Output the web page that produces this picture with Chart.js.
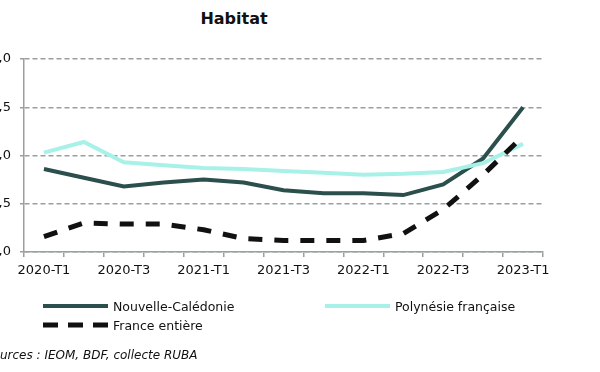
<!DOCTYPE html>
<html>
<head>
<meta charset="utf-8">
<script src="https://cdn.jsdelivr.net/npm/chart.js@4/dist/chart.umd.min.js"></script>
<style>
  body { margin: 0; width: 600px; height: 372px; overflow: hidden; background: #fff; position: relative; font-family: "DejaVu Sans", sans-serif; }
  #title { position: absolute; top: 9px; left: 0; width: 468px; text-align: center; font-weight: bold; font-size: 16px; color: #111; }
  #wrap { position: absolute; left: -12px; top: 0; width: 600px; height: 290px; }
  #legend { position: absolute; left: 0; top: 0; width: 600px; height: 372px; pointer-events: none; }
  .item { position: absolute; display: flex; align-items: center; font-size: 12.5px; color: #111; white-space: nowrap; }
  .item svg { margin-right: 5px; }
  #sources { position: absolute; left: -15px; top: 348px; font-size: 12px; font-style: italic; color: #111; white-space: nowrap; }
</style>
</head>
<body>
<div id="title">Habitat</div>
<div id="wrap"><canvas id="graph"></canvas></div>
<div id="legend"></div>
<div id="sources">Sources : IEOM, BDF, collecte RUBA</div>
<script>
// trimestres
const quarters = ['2020-T1','2020-T2','2020-T3','2020-T4','2021-T1','2021-T2','2021-T3','2021-T4',
  '2022-T1','2022-T2','2022-T3','2022-T4','2023-T1'];
// taux moyens (%)
const nouvelleCaledonie = [1.86, 1.77, 1.68, 1.72, 1.75, 1.72, 1.64, 1.61, 1.61, 1.59, 1.70, 1.97, 2.50];
const polynesie = [2.03, 2.14, 1.93, 1.90, 1.87, 1.86, 1.84, 1.82, 1.80, 1.81, 1.83, 1.92, 2.12];
const franceEntiere = [1.16, 1.30, 1.29, 1.29, 1.23, 1.14, 1.12, 1.12, 1.12, 1.19, 1.44, 1.80, 2.20];
const yTicks = [1.0, 1.5, 2.0, 2.5, 3.0];

const gridGrey = '#9a9f9f';

const ctx = document.getElementById('graph').getContext('2d');
const chart = new Chart(ctx, {
  type: 'line',
  data: {
    labels: quarters,
    datasets: [{
      label: 'Nouvelle-Calédonie',
      data: nouvelleCaledonie,
      borderColor: '#2b4f4c',
      borderWidth: 4,
      pointRadius: 0,
      tension: 0,
      order: 3
    }, {
      label: 'Polynésie française',
      data: polynesie,
      borderColor: '#a8f1e9',
      borderWidth: 4,
      pointRadius: 0,
      tension: 0,
      order: 2
    }, {
      label: 'France entière',
      data: franceEntiere,
      borderColor: '#111111',
      borderWidth: 5,
      borderDash: [14, 12],
      pointRadius: 0,
      tension: 0,
      order: 1
    }]
  },
  options: {
    responsive: true,
    maintainAspectRatio: false,
    animation: false,
    layout: { padding: { left: 0, right: 45, top: 59, bottom: 8 } },
    plugins: { legend: { display: false }, title: { display: false }, tooltip: { enabled: false } },
    scales: {
      x: {
        offset: true,
        grid: { offset: true, drawOnChartArea: false, color: gridGrey, lineWidth: 1.5, tickLength: 5 },
        border: { color: gridGrey, width: 1.5 },
        ticks: {
          autoSkip: false, maxRotation: 0, padding: 6, color: '#111',
          font: { family: 'DejaVu Sans', size: 13 },
          callback: function (v, i) { return i % 2 === 0 ? quarters[i] : ''; }
        },
        afterFit: function (s) { s.height = 30; }
      },
      y: {
        min: 1, max: 3,
        afterBuildTicks: function (s) { s.ticks = yTicks.map(v => ({ value: v })); },
        grid: { color: gridGrey, lineWidth: 1.5, tickLength: 4 },
        border: { color: gridGrey, width: 1.5, dash: [5, 3] },
        ticks: {
          padding: 9, color: '#111',
          font: { family: 'DejaVu Sans', size: 13 },
          callback: function (v) { return v.toFixed(1).replace('.', ','); }
        },
        afterFit: function (s) { s.width = 36; }
      }
    }
  }
});

// legende en HTML
const legendPos = [
  { left: 43, top: 297 },
  { left: 325, top: 297 },
  { left: 43, top: 316 }
];
const legend = document.getElementById('legend');
chart.data.datasets.forEach((ds, i) => {
  const item = document.createElement('div');
  item.className = 'item';
  item.style.left = legendPos[i].left + 'px';
  item.style.top = legendPos[i].top + 'px';
  const dash = ds.borderDash ? 'stroke-dasharray="15 10"' : '';
  item.innerHTML = '<svg width="65" height="18"><line x1="0" y1="9" x2="65" y2="9" stroke="' + ds.borderColor +
    '" stroke-width="' + ds.borderWidth + '" ' + dash + '/></svg><span>' + ds.label + '</span>';
  legend.appendChild(item);
});
</script>
</body>
</html>
